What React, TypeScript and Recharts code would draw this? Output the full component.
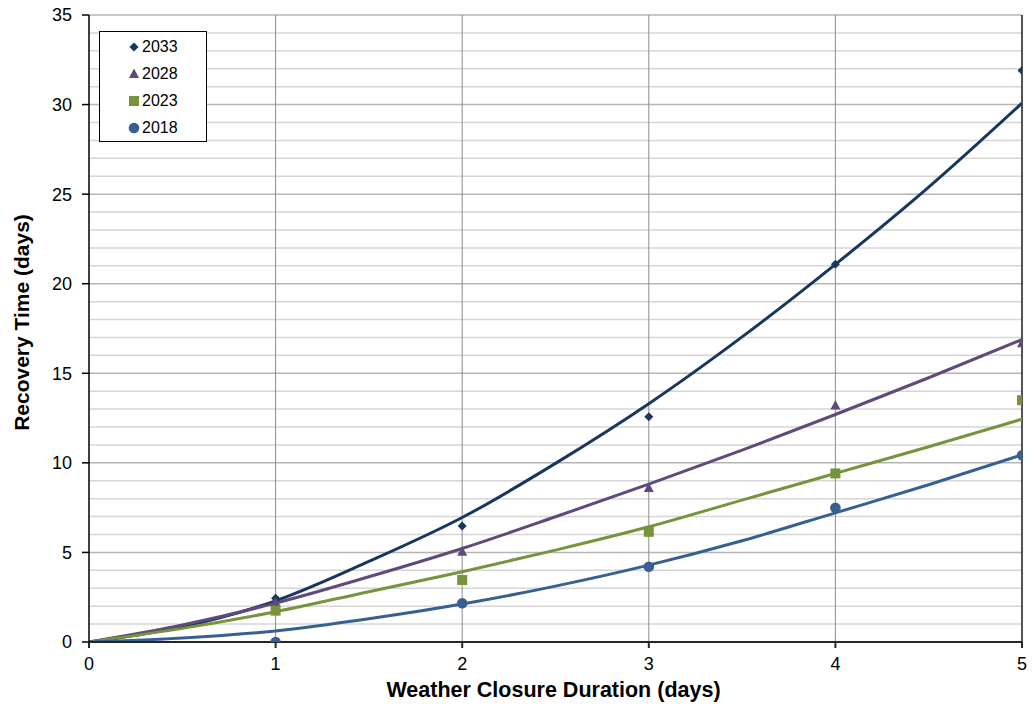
import React from 'react';
import {
  ComposedChart,
  Line,
  Scatter,
  XAxis,
  YAxis,
  ReferenceLine,
} from 'recharts';

// ---------- data ----------
const seriesNames = ['2033', '2028', '2023', '2018'];
const pointX = [1, 2, 3, 4, 5];
const points2033 = [2.44, 6.47, 12.57, 21.08, 31.9];
const points2028 = [2.2, 5.04, 8.6, 13.2, 16.68];
const points2023 = [1.75, 3.46, 6.15, 9.41, 13.5];
const points2018 = [0, 2.16, 4.2, 7.49, 10.42];

const trendX = [0, 0.5, 1, 1.5, 2, 2.5, 3, 3.5, 4, 4.5, 5];
const trend2033 = [0, 0.85, 2.3, 4.5, 6.95, 9.97, 13.3, 17.03, 21.08, 25.39, 30.08];
const trend2028 = [0, 0.95, 2.17, 3.64, 5.22, 6.99, 8.81, 10.71, 12.7, 14.75, 16.88];
const trend2023 = [0, 0.76, 1.69, 2.81, 3.92, 5.13, 6.43, 7.92, 9.41, 10.9, 12.44];
const trend2018 = [0, 0.22, 0.62, 1.3, 2.12, 3.12, 4.29, 5.65, 7.21, 8.78, 10.45];

const xTicks = [0, 1, 2, 3, 4, 5];
const yTicks = [0, 5, 10, 15, 20, 25, 30, 35];
const yMinorGrid = [
  1, 2, 3, 4, 6, 7, 8, 9, 11, 12, 13, 14, 16, 17, 18, 19, 21, 22, 23, 24, 26, 27, 28, 29, 31, 32, 33, 34,
];
const yMajorGrid = [5, 10, 15, 20, 25, 30, 35];
const xGrid = [1, 2, 3, 4];

const xTitle = 'Weather Closure Duration (days)';
const yTitle = 'Recovery Time (days)';

// ---------- styles ----------
const colors: Record<string, string> = {
  '2033': '#17375E',
  '2028': '#604A7B',
  '2023': '#77933C',
  '2018': '#376092',
};
const shapes: Record<string, string> = {
  '2033': 'diamond',
  '2028': 'triangle',
  '2023': 'square',
  '2018': 'circle',
};

const pointsBy: Record<string, number[]> = {
  '2033': points2033,
  '2028': points2028,
  '2023': points2023,
  '2018': points2018,
};
const trendBy: Record<string, number[]> = {
  '2033': trend2033,
  '2028': trend2028,
  '2023': trend2023,
  '2018': trend2018,
};

const toRows = (xs: number[], ys: number[]) => xs.map((x, i) => ({ x, y: ys[i] }));

const FONT = '"Liberation Sans", Arial, sans-serif';

function Marker({ kind, cx, cy, color }: { kind: string; cx: number; cy: number; color: string }) {
  if (kind === 'diamond') {
    const r = 4.5;
    return <path d={`M${cx},${cy - r}L${cx + r},${cy}L${cx},${cy + r}L${cx - r},${cy}Z`} fill={color} />;
  }
  if (kind === 'triangle') {
    return (
      <path d={`M${cx},${cy - 5.5}L${cx + 5},${cy + 4}L${cx - 5},${cy + 4}Z`} fill={color} />
    );
  }
  if (kind === 'square') {
    return <rect x={cx - 5} y={cy - 5} width={10} height={10} fill={color} />;
  }
  return <circle cx={cx} cy={cy} r={5.3} fill={color} />;
}

const makeShape = (name: string) => (props: any) => {
  const { cx, cy } = props;
  if (cx == null || cy == null) return <g />;
  return <Marker kind={shapes[name]} cx={cx} cy={cy} color={colors[name]} />;
};

const YTitle = (props: any) => {
  const vb = props.viewBox || { x: 0, y: 15, width: 89, height: 627 };
  const cx = vb.x + 22;
  const cy = vb.y + vb.height / 2 - 6;
  return (
    <text
      x={cx}
      y={cy}
      dy="0.355em"
      transform={`rotate(-90, ${cx}, ${cy})`}
      textAnchor="middle"
      fontFamily={FONT}
      fontWeight="bold"
      fontSize={21}
      fill="#000"
    >
      {yTitle}
    </text>
  );
};

const XTitle = (props: any) => {
  const vb = props.viewBox || { x: 89, y: 642, width: 933, height: 65 };
  const cx = vb.x + vb.width / 2 - 2;
  const cy = vb.y + vb.height - 10;
  return (
    <text x={cx} y={cy} textAnchor="middle" fontFamily={FONT} fontWeight="bold" fontSize={21.5} fill="#000">
      {xTitle}
    </text>
  );
};

function LegendBox() {
  return (
    <div
      style={{
        position: 'absolute',
        left: 99,
        top: 31,
        width: 106,
        height: 108,
        border: '1px solid #000',
        background: '#fff',
        fontFamily: FONT,
        fontSize: 16,
        color: '#000',
        paddingTop: 1,
        boxSizing: 'content-box',
      }}
    >
      {seriesNames.map((name) => (
        <div key={name} style={{ height: 27, display: 'flex', alignItems: 'center' }}>
          <svg width={14} height={14} style={{ marginLeft: 27, marginRight: 1 }}>
            <Marker kind={shapes[name]} cx={7} cy={7} color={colors[name]} />
          </svg>
          <span>{name}</span>
        </div>
      ))}
    </div>
  );
}

export default function App() {
  return (
    <div style={{ position: 'absolute', left: 0, top: 0, width: 1035, height: 707, background: '#fff' }}>
      <ComposedChart
        width={1035}
        height={707}
        margin={{ top: 15, right: 13, bottom: 0, left: 0 }}
        style={{ fontFamily: FONT }}
      >
        {yMinorGrid.map((v) => (
          <ReferenceLine key={'mn' + v} y={v} stroke="#d6d6d6" strokeWidth={1.5} />
        ))}
        {yMajorGrid.map((v) => (
          <ReferenceLine key={'mj' + v} y={v} stroke="#b5b5b5" strokeWidth={1.5} />
        ))}
        {xGrid.map((v) => (
          <ReferenceLine key={'vx' + v} x={v} stroke="#8c8c8c" strokeWidth={1} />
        ))}
        <ReferenceLine x={5} stroke="#1a1a1a" strokeWidth={1.5} />
        <XAxis
          type="number"
          dataKey="x"
          domain={[0, 5]}
          ticks={xTicks}
          allowDataOverflow
          height={65}
          tickSize={6}
          tickMargin={9}
          stroke="#262626"
          strokeWidth={2}
          tick={{ fill: '#000', fontSize: 18, fontFamily: FONT }}
          label={{ content: XTitle }}
        />
        <YAxis
          type="number"
          dataKey="y"
          domain={[0, 35]}
          ticks={yTicks}
          allowDataOverflow
          width={89}
          tickSize={7}
          tickMargin={10}
          stroke="#000"
          strokeWidth={1.5}
          tick={{ fill: '#000', fontSize: 18, fontFamily: FONT }}
          label={{ content: YTitle }}
        />
        {seriesNames.map((name) => (
          <Scatter
            key={'s' + name}
            name={name}
            data={toRows(pointX, pointsBy[name])}
            dataKey="y"
            shape={makeShape(name)}
            fill={colors[name]}
            isAnimationActive={false}
          />
        ))}
        {seriesNames.map((name) => (
          <Line
            key={'l' + name}
            data={toRows(trendX, trendBy[name])}
            dataKey="y"
            type="monotone"
            stroke={colors[name]}
            strokeWidth={3}
            dot={false}
            activeDot={false}
            legendType="none"
            isAnimationActive={false}
          />
        ))}
      </ComposedChart>
      <LegendBox />
    </div>
  );
}
